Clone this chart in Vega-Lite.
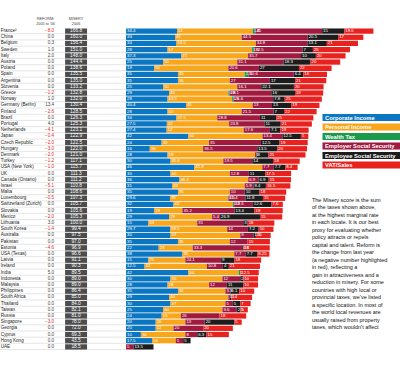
{
"$schema": "https://vega.github.io/schema/vega-lite/v6.json",
"width": 393, "height": 322,
"autosize": {"type": "none"},
"padding": {"left": 0, "top": 28, "right": 7, "bottom": 24},
"background": "#ffffff",
"config": {"view": {"stroke": null}, "font": "Liberation Sans"},
"data": {"values": [
{"country":"France²","reform":-8.0,"misery":166.8,"corporate":34.4,"personal":51,"wealth":1.8,"employer":45,"employee":15,"vat":19.6},
{"country":"China","reform":0.0,"misery":160.0,"corporate":33,"personal":45,"wealth":0,"employer":44.5,"employee":20.5,"vat":17},
{"country":"Belgium","reform":0.3,"misery":156.4,"corporate":34,"personal":53.5,"wealth":0,"employer":34.8,"employee":13.1,"vat":21},
{"country":"Sweden","reform":1.0,"misery":151.0,"corporate":28,"personal":57,"wealth":1.5,"employer":32.5,"employee":7,"vat":25},
{"country":"Italy","reform":2.0,"misery":148.0,"corporate":37.3,"personal":45,"wealth":0,"employer":35.7,"employee":10,"vat":20},
{"country":"Austria","reform":0.0,"misery":144.4,"corporate":25,"personal":50,"wealth":0,"employer":31.1,"employee":18.3,"vat":20},
{"country":"Poland","reform":0.0,"misery":138.6,"corporate":19,"personal":50,"wealth":0,"employer":20.6,"employee":27,"vat":22},
{"country":"Spain","reform":0.0,"misery":135.5,"corporate":35,"personal":45,"wealth":2.5,"employer":30.6,"employee":6.4,"vat":16},
{"country":"Argentina","reform":0.0,"misery":135.0,"corporate":35,"personal":35,"wealth":0,"employer":27,"employee":17,"vat":21},
{"country":"Slovenia","reform":0.0,"misery":133.2,"corporate":25,"personal":50,"wealth":0,"employer":16.1,"employee":22.1,"vat":20},
{"country":"Greece","reform":-1.2,"misery":132.8,"corporate":29,"personal":40,"wealth":0.8,"employer":28.1,"employee":16,"vat":19},
{"country":"Norway","reform":1.0,"misery":132.0,"corporate":28,"personal":43.5,"wealth":1.1,"employer":26.6,"employee":7.8,"vat":25},
{"country":"Germany (Berlin)","reform":13.4,"misery":130.4,"corporate":40.4,"personal":45,"wealth":0,"employer":13,"employee":13,"vat":19},
{"country":"Finland","reform":-2.6,"misery":128.5,"corporate":28,"personal":50,"wealth":0,"employer":21.5,"employee":7,"vat":22},
{"country":"Brazil","reform":0.0,"misery":126.3,"corporate":34,"personal":27.5,"wealth":0,"employer":28.8,"employee":11,"vat":25},
{"country":"Portugal","reform":4.0,"misery":125.3,"corporate":27.5,"personal":42,"wealth":0,"employer":23.8,"employee":11,"vat":21},
{"country":"Netherlands","reform":-4.1,"misery":123.1,"corporate":27.4,"personal":52,"wealth":0,"employer":17.6,"employee":7.1,"vat":19},
{"country":"Japan","reform":-0.4,"misery":122.9,"corporate":42,"personal":50,"wealth":0,"employer":13.4,"employee":12.5,"vat":5},
{"country":"Czech Republic","reform":-2.0,"misery":122.5,"corporate":24,"personal":32,"wealth":0,"employer":35,"employee":12.5,"vat":19},
{"country":"Hungary","reform":-3.0,"misery":122.0,"corporate":16,"personal":36,"wealth":0,"employer":36.5,"employee":13.5,"vat":20},
{"country":"Denmark","reform":-2.0,"misery":121.0,"corporate":28,"personal":59,"wealth":0,"employer":1,"employee":8,"vat":25},
{"country":"Turkey","reform":-1.2,"misery":117.1,"corporate":30,"personal":35.6,"wealth":0,"employer":19.5,"employee":14,"vat":18},
{"country":"USA (New York)","reform":-1.0,"misery":115.7,"corporate":46,"personal":45.9,"wealth":0,"employer":7.7,"employee":7.7,"vat":8.4},
{"country":"UK","reform":0.0,"misery":111.3,"corporate":30,"personal":40,"wealth":0,"employer":12.8,"employee":11,"vat":17.5},
{"country":"Canada (Ontario)","reform":0.0,"misery":111.2,"corporate":36,"personal":46.4,"wealth":0,"employer":6.9,"employee":6.9,"vat":15},
{"country":"Israel","reform":-5.1,"misery":110.8,"corporate":31,"personal":49,"wealth":0,"employer":5.9,"employee":8.4,"vat":16.5},
{"country":"Malta","reform":0.0,"misery":108.6,"corporate":35,"personal":35,"wealth":0,"employer":10,"employee":10,"vat":18},
{"country":"Luxembourg","reform":-0.5,"misery":107.3,"corporate":29.6,"personal":39,"wealth":0.5,"employer":11.4,"employee":11.8,"vat":15},
{"country":"Switzerland (Zurich)","reform":0.0,"misery":105.7,"corporate":32,"personal":40,"wealth":0.9,"employer":12.6,"employee":12.6,"vat":7.6},
{"country":"Slovakia","reform":0.0,"misery":105.6,"corporate":19,"personal":19,"wealth":0,"employer":35.2,"employee":13.4,"vat":19},
{"country":"Mexico","reform":-2.0,"misery":105.3,"corporate":29,"personal":29,"wealth":0,"employer":5.4,"employee":26.9,"vat":15},
{"country":"Lithuania","reform":3.0,"misery":100.0,"corporate":15,"personal":33,"wealth":0,"employer":31,"employee":3,"vat":18},
{"country":"South Korea","reform":-1.4,"misery":99.4,"corporate":29.7,"personal":38.5,"wealth":0,"employer":14,"employee":7.2,"vat":10},
{"country":"Australia","reform":0.0,"misery":97.5,"corporate":30,"personal":47,"wealth":0,"employer":9,"employee":1.5,"vat":10},
{"country":"Pakistan","reform":0.0,"misery":97.0,"corporate":35,"personal":35,"wealth":0,"employer":12,"employee":0,"vat":15},
{"country":"Estonia","reform":-4.6,"misery":96.9,"corporate":22,"personal":23,"wealth":0,"employer":33.3,"employee":0.6,"vat":18},
{"country":"USA (Texas)","reform":0.0,"misery":96.6,"corporate":38,"personal":35,"wealth":0,"employer":7.7,"employee":7.7,"vat":8.25},
{"country":"Latvia","reform":0.0,"misery":91.1,"corporate":15,"personal":25,"wealth":0,"employer":24.1,"employee":9,"vat":18},
{"country":"Ireland","reform":0.0,"misery":90.3,"corporate":12.5,"personal":42,"wealth":0,"employer":10.8,"employee":4,"vat":21},
{"country":"India","reform":5.0,"misery":89.5,"corporate":42,"personal":34,"wealth":1,"employer":0,"employee":0,"vat":12.5},
{"country":"Indonesia","reform":0.0,"misery":89.0,"corporate":30,"personal":35,"wealth":0,"employer":12,"employee":2,"vat":10},
{"country":"Malaysia","reform":0.0,"misery":89.0,"corporate":28,"personal":28,"wealth":0,"employer":12,"employee":11,"vat":10},
{"country":"Philippines","reform":0.0,"misery":86.4,"corporate":35,"personal":32,"wealth":0,"employer":3.3,"employee":6.1,"vat":10},
{"country":"South Africa","reform":0.0,"misery":85.0,"corporate":29,"personal":40,"wealth":0,"employer":1,"employee":1,"vat":14},
{"country":"Thailand","reform":0.0,"misery":84.0,"corporate":30,"personal":37,"wealth":0,"employer":5,"employee":5,"vat":7},
{"country":"Taiwan","reform":0.0,"misery":82.1,"corporate":25,"personal":40,"wealth":0,"employer":9.6,"employee":2.5,"vat":5},
{"country":"Russia","reform":0.0,"misery":81.0,"corporate":24,"personal":13,"wealth":0,"employer":26,"employee":0,"vat":18},
{"country":"Singapore","reform":-3.0,"misery":78.0,"corporate":20,"personal":20,"wealth":0,"employer":13,"employee":20,"vat":5},
{"country":"Georgia","reform":0.0,"misery":72.0,"corporate":20,"personal":12,"wealth":0,"employer":20,"employee":0,"vat":20},
{"country":"Cyprus","reform":0.0,"misery":69.3,"corporate":10,"personal":30,"wealth":0,"employer":8,"employee":6.3,"vat":15},
{"country":"Hong Kong","reform":0.0,"misery":43.5,"corporate":17.5,"personal":16,"wealth":0,"employer":5,"employee":5,"vat":0},
{"country":"UAE","reform":0.0,"misery":18.5,"corporate":0,"personal":0,"wealth":0,"employer":5,"employee":13.5,"vat":0}
]},
"encoding": {
  "y": {"field": "country", "type": "nominal", "sort": null, "axis": null,
    "scale": {"domain": ["France²","China","Belgium","Sweden","Italy","Austria","Poland","Spain","Argentina","Slovenia","Greece","Norway","Germany (Berlin)","Finland","Brazil","Portugal","Netherlands","Japan","Czech Republic","Hungary","Denmark","Turkey","USA (New York)","UK","Canada (Ontario)","Israel","Malta","Luxembourg","Switzerland (Zurich)","Slovakia","Mexico","Lithuania","South Korea","Australia","Pakistan","Estonia","USA (Texas)","Latvia","Ireland","India","Indonesia","Malaysia","Philippines","South Africa","Thailand","Taiwan","Russia","Singapore","Georgia","Cyprus","Hong Kong","UAE"],
      "paddingInner": 0.15, "paddingOuter": 0.075}}
},
"layer": [
  {"mark": {"type": "rule", "color": "#cccccc", "strokeWidth": 0.5},
   "encoding": {
     "y": {"field": "country", "type": "nominal", "sort": null, "axis": null, "bandPosition": 1},
     "x": {"datum": -85, "scale": {"domain": [-85, 180], "nice": false, "zero": false}, "axis": null},
     "x2": {"datum": 0}}},
  {"mark": {"type": "bar", "color": "#4d4d4d"},
   "encoding": {
     "x": {"datum": -41.1, "scale": {"domain": [-85, 180], "nice": false, "zero": false}, "axis": null},
     "x2": {"datum": -26.3}}},
  {"transform": [
     {"fold": ["corporate", "personal", "wealth", "employer", "employee", "vat"], "as": ["type", "value"]},
     {"filter": "datum.value > 0"},
     {"stack": "value", "groupby": ["country"], "as": ["x0", "x1"]}],
   "mark": {"type": "bar"},
   "encoding": {
     "x": {"field": "x0", "type": "quantitative", "scale": {"domain": [-85, 180], "nice": false, "zero": false},
       "axis": {"values": [0, 20, 40, 60, 80, 100, 120, 140, 160, 180], "domain": false, "grid": false, "tickSize": 3, "tickColor": "#999999", "tickWidth": 0.5, "labelFontSize": 4, "labelColor": "#333333", "labelPadding": 1, "title": null}},
     "x2": {"field": "x1"},
     "color": {"field": "type", "type": "nominal",
       "scale": {"domain": ["corporate", "personal", "wealth", "employer", "employee", "vat"],
                 "range": ["#0b77c2", "#f8a61c", "#1a9a4a", "#a0193f", "#1c1c1c", "#e8231f"]},
       "legend": {"orient": "none", "legendX": 318, "legendY": 85, "title": null, "padding": 0,
         "symbolType": "M0,-0.82H18.4V0.82H0Z", "symbolSize": 72, "symbolStrokeWidth": 0, "symbolOpacity": 1,
         "labelOffset": -2, "labelColor": "#ffffff", "labelFontWeight": "bold", "labelFontSize": 5.8,
         "rowPadding": 1.5,
         "labelExpr": "{'corporate':'Corporate Income','personal':'Personal Income','wealth':'Wealth Tax','employer':'Employer Social Security','employee':'Employee Social Security','vat':'VAT/Sales'}[datum.label]"}}}},
  {"transform": [
     {"fold": ["corporate", "personal", "wealth", "employer", "employee", "vat"], "as": ["type", "value"]},
     {"filter": "datum.value > 0"},
     {"stack": "value", "groupby": ["country"], "as": ["x0", "x1"]}],
   "mark": {"type": "text", "align": "left", "baseline": "middle", "dx": 1, "fontSize": 4.3, "color": "#ffffff"},
   "encoding": {
     "x": {"field": "x0", "type": "quantitative", "scale": {"domain": [-85, 180], "nice": false, "zero": false}, "axis": null},
     "text": {"field": "value", "type": "quantitative"}}},
  {"mark": {"type": "text", "align": "left", "baseline": "middle", "fontSize": 4.6, "color": "#222222"},
   "encoding": {
     "x": {"datum": -84.5, "scale": {"domain": [-85, 180], "nice": false, "zero": false}, "axis": null},
     "text": {"field": "country", "type": "nominal"}}},
  {"mark": {"type": "text", "align": "right", "baseline": "middle", "fontSize": 4.6},
   "encoding": {
     "x": {"datum": -48.5, "scale": {"domain": [-85, 180], "nice": false, "zero": false}, "axis": null},
     "text": {"field": "reform", "type": "quantitative", "format": ".1f"},
     "color": {"condition": {"test": "datum.reform < 0", "value": "#e3261f"}, "value": "#444444"}}},
  {"mark": {"type": "text", "align": "center", "baseline": "middle", "fontSize": 4.8, "color": "#ffffff"},
   "encoding": {
     "x": {"datum": -33.7, "scale": {"domain": [-85, 180], "nice": false, "zero": false}, "axis": null},
     "text": {"field": "misery", "type": "quantitative", "format": ".1f"}}},
  {"data": {"values": [{"label": "REFORM¹\n2005 to '06"}]},
   "mark": {"type": "text", "align": "center", "baseline": "top", "fontSize": 3.8, "lineBreak": "\n", "lineHeight": 5, "dy": -14, "color": "#444444"},
   "encoding": {
     "x": {"datum": -54.3, "scale": {"domain": [-85, 180], "nice": false, "zero": false}, "axis": null},
     "y": {"datum": "France²", "type": "nominal", "axis": null},
     "text": {"field": "label"}}},
  {"data": {"values": [{"label": "MISERY\n2006"}]},
   "mark": {"type": "text", "align": "center", "baseline": "top", "fontSize": 3.8, "lineBreak": "\n", "lineHeight": 5, "dy": -14, "color": "#444444"},
   "encoding": {
     "x": {"datum": -33.7, "scale": {"domain": [-85, 180], "nice": false, "zero": false}, "axis": null},
     "y": {"datum": "France²", "type": "nominal", "axis": null},
     "text": {"field": "label"}}},
  {"data": {"values": [{"note": "The Misery score is the sum\nof the taxes shown above,\nat the highest marginal rate\nin each locale. It is our best\nproxy for evaluating whether\npolicy attracts or repels\ncapital and talent. Reform is\nthe change from last year\n(a negative number highlighted\nin red), reflecting a\ngain in attractiveness and a\nreduction in misery. For some\ncountries with high local or\nprovincial taxes, we've listed\na specific location. In most of\nthe world local revenues are\nusually raised from property\ntaxes, which wouldn't affect"}]},
   "mark": {"type": "text", "align": "left", "baseline": "top", "fontSize": 5.5, "lineBreak": "\n", "lineHeight": 7.5, "dy": -0.5, "color": "#111111"},
   "encoding": {
     "x": {"datum": 125.3, "scale": {"domain": [-85, 180], "nice": false, "zero": false}, "axis": null},
     "y": {"datum": "Luxembourg", "type": "nominal", "axis": null},
     "text": {"field": "note"}}}
]
}
